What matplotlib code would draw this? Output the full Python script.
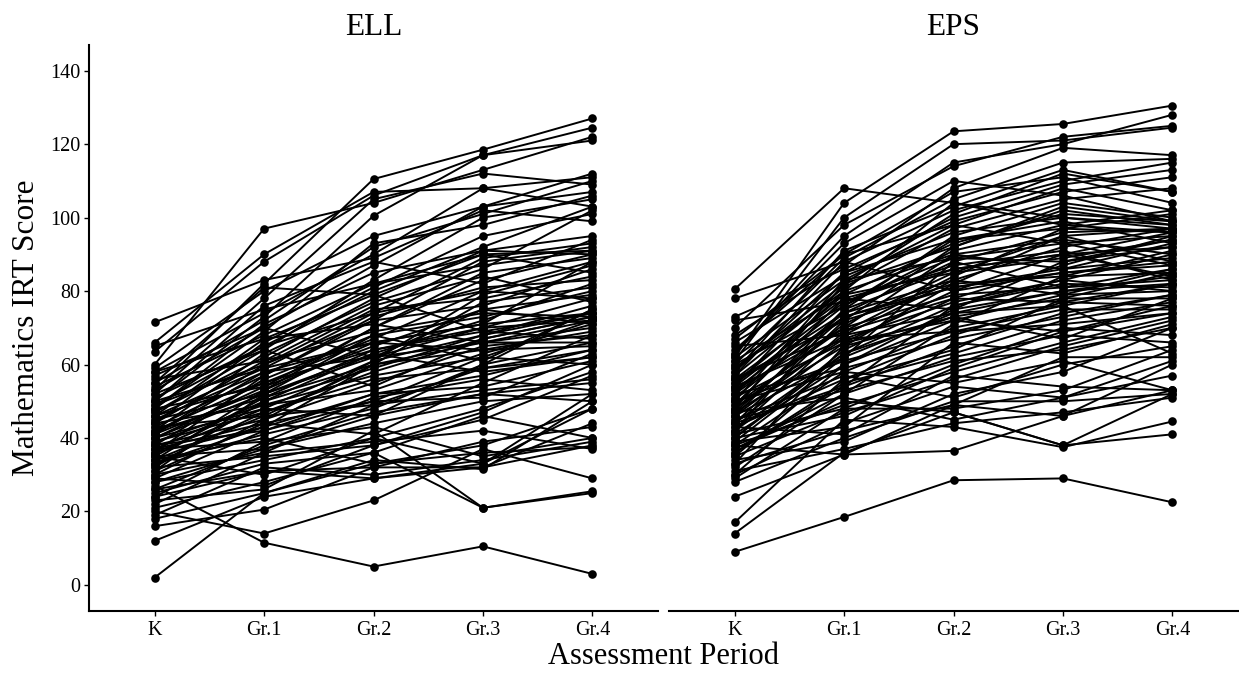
import matplotlib
matplotlib.use("Agg")
import matplotlib.pyplot as plt

periods = ["K", "Gr.1", "Gr.2", "Gr.3", "Gr.4"]
yticks = [0, 20, 40, 60, 80, 100, 120, 140]

ell_scores = [
    [2, 25, 33, 36, 37.5], [12, 24, 29, 33, 48], [16, 20.5, 32, 32, 38], [18, 25, 34, 31.5, 50],
    [20, 14, 23, 37, 29], [27, 11.5, 5, 10.5, 3], [21, 28, 36, 21, 25.5], [23, 26, 42, 21, 25],
    [19, 32, 30, 34, 39], [22, 36, 39, 42, 37], [24, 31, 29, 32, 44], [25, 33, 36, 46, 40],
    [26, 38, 47, 52, 55], [28, 37, 44, 50, 52], [29, 42, 52, 57, 64], [30, 36, 49, 59, 62],
    [31, 44, 50, 62, 72], [32, 35, 38, 45, 57], [33, 41, 48, 60, 75], [34, 46, 60, 66, 66],
    [35, 37, 46, 52, 50], [36, 48, 61, 68, 74], [37, 50, 63, 72, 82], [38, 45, 55, 65, 68],
    [39, 47, 58, 67, 73], [40, 52, 62, 66, 70], [41, 53, 70, 83, 90], [42, 51, 60, 64, 65],
    [43, 57, 72, 88, 92], [44, 49, 57, 62, 60], [45, 58, 62, 70, 72], [46, 55, 67, 80, 88],
    [47, 62, 78, 91, 95], [48, 54, 65, 75, 79], [49, 60, 75, 78, 84], [50, 59, 66, 71, 74],
    [51, 65, 80, 92, 103], [52, 64, 83, 100, 105], [53, 82, 110.5, 118.5, 127], [54, 68, 82, 90, 91],
    [55, 72, 92, 101, 110], [56, 61, 69, 74, 73], [57, 70, 87, 103, 112], [58, 74, 90, 108, 111],
    [60, 97, 104, 113, 122], [59, 80, 95, 103, 107], [63.5, 88, 106, 117, 124.5], [65, 75, 82, 87, 91],
    [66, 90, 107, 108, 103], [71.5, 83, 89, 102, 99], [33, 47, 56, 59, 64], [35, 51, 64, 70, 78],
    [37, 44, 41, 55, 68], [39, 49, 53, 63, 71], [41, 60, 72, 76, 86], [34, 40, 33, 38, 48],
    [36, 43, 52, 54, 61], [38, 56, 68, 73, 80], [40, 54, 70, 85, 89], [42, 63, 77, 86, 102],
    [44, 66, 81, 95, 101], [46, 59, 74, 89, 93], [48, 69, 93, 98, 106], [50, 73, 100.5, 117, 121],
    [52, 78, 105, 112, 109], [30, 45, 61, 79, 87], [28, 34, 40, 48, 58], [26, 31, 32, 39, 43],
    [24, 39, 51, 56, 53], [32, 50, 59, 68, 76], [34, 53, 66, 64, 69], [36, 57, 73, 81, 83],
    [38, 42, 50, 51, 63], [40, 48, 46, 60, 66], [42, 55, 64, 69, 67], [44, 61, 76, 84, 77],
    [46, 67, 79, 69, 74], [48, 71, 85, 91, 90], [50, 76, 88, 82, 94], [35, 30, 40, 33, 52],
    [45, 52, 63, 58, 62], [55, 81, 79, 90, 85], [58, 67, 71, 66, 72], [47, 64, 54, 67, 73],
    [43, 46, 49, 53, 56], [37, 39, 43, 35, 40], [31, 52, 68, 61, 75], [29, 27, 38, 47, 60],
    [33, 43, 60, 77, 81], [41, 58, 66, 71, 88], [49, 65, 74, 80, 78], [53, 70, 62, 75, 71],
]

eps_scores = [
    [9, 18.5, 28.5, 29, 22.5], [14, 36, 47, 38, 41], [17, 45, 43, 37.5, 44.5], [24, 35.5, 36.5, 46, 53],
    [28, 40, 50, 50, 52], [29, 48, 48, 53, 64], [30, 44, 54, 51, 61], [31, 37, 44, 47, 51],
    [32, 52, 62, 68, 66], [33, 42, 49, 62, 62], [35, 47, 56, 65, 72], [36, 54, 65, 74, 79],
    [37, 50, 47, 38, 52], [38, 58, 70, 76, 82], [39, 62, 74, 80, 84], [40, 46, 59, 69, 74],
    [41, 60, 72, 79, 86], [42, 63, 76, 82, 81], [43, 56, 68, 77, 76], [44, 66, 80, 85, 88],
    [45, 53, 61, 64, 70], [46, 68, 83, 92, 97], [47, 65, 73, 78, 78], [48, 71, 85, 89, 94],
    [49, 70, 79, 81, 83], [50, 61, 69, 75, 75], [51, 74, 88, 96, 97], [52, 73, 82, 84, 85],
    [53, 76, 91, 98, 96], [54, 67, 77, 83, 80], [55, 79, 93, 101, 99], [56, 78, 86, 90, 92],
    [57, 81, 97, 105, 108], [58, 85, 100, 109, 113], [59, 80, 90, 94, 90], [60, 89, 105, 115, 116],
    [61, 100, 120, 121, 124.5], [62, 104, 123.5, 125.5, 130.5], [63, 95, 115, 120, 128], [64, 90, 107, 111, 104],
    [66, 84, 96, 100, 98], [68, 87, 108, 119, 117], [70, 98, 114, 122, 125], [73, 86, 99, 107, 111],
    [78, 88, 102, 110, 115], [80.5, 108, 104, 98, 102], [72, 77, 89, 93, 87], [34, 39, 52, 58, 70],
    [36, 55, 63, 72, 77], [38, 49, 58, 66, 73], [40, 64, 78, 87, 95], [42, 69, 84, 97, 96],
    [44, 72, 92, 103, 99], [46, 75, 95, 104, 100], [48, 82, 101, 112, 107], [50, 83, 98, 108, 102],
    [52, 59, 67, 73, 79], [54, 77, 87, 91, 83], [56, 72, 81, 86, 89], [58, 91, 103, 113, 107],
    [60, 76, 94, 99, 93], [45, 57, 51, 60, 65], [47, 51, 45, 51, 57], [43, 41, 57, 54, 53],
    [41, 48, 60, 70, 68], [39, 43, 66, 63, 71], [37, 52, 71, 84, 91], [35, 60, 75, 88, 94],
    [33, 65, 82, 95, 97], [30, 56, 64, 78, 85], [49, 78, 75, 80, 82], [51, 66, 72, 69, 76],
    [53, 70, 90, 86, 93], [55, 74, 83, 79, 80], [57, 88, 80, 90, 96], [59, 82, 92, 102, 98],
    [61, 79, 85, 95, 88], [63, 93, 110, 106, 99], [65, 68, 74, 76, 63], [67, 90, 98, 93, 95],
    [46, 62, 88, 81, 86], [48, 67, 69, 71, 74], [50, 58, 55, 61, 53], [52, 80, 104, 100, 97],
    [44, 54, 76, 83, 90], [42, 75, 86, 90, 84], [40, 63, 73, 67, 78], [56, 69, 78, 77, 82],
    [54, 85, 94, 97, 101], [47, 73, 81, 85, 87], [62, 83, 89, 88, 92], [38, 35.5, 49, 46, 60],
]

panel_titles = ["ELL", "EPS"]
panel_data = [ell_scores, eps_scores]

plt.rcParams["font.family"] = ["Liberation Serif", "DejaVu Serif"]
W, H = 1239, 673
fig = plt.figure(figsize=(W / 100, H / 100), dpi=100, facecolor="white")

lefts = [89, 669]
pw = 569
top, bottom = 45, 611
for i, (left, title, rows) in enumerate(zip(lefts, panel_titles, panel_data)):
    ax = fig.add_axes([left / W, 1 - bottom / H, pw / W, (bottom - top) / H])
    for row in rows:
        ax.plot(range(len(periods)), row, color="black", lw=1.4, marker="o", ms=6.2,
                mew=0, solid_joinstyle="round", clip_on=False)
    ax.set_xlim(-0.6, 4.6)
    ax.set_ylim(-7.1, 147)
    ax.set_xticks(range(len(periods)), periods)
    ax.set_title(title, fontsize=22.5, pad=7)
    for s in ["top", "right"]:
        ax.spines[s].set_visible(False)
    ax.spines["bottom"].set_linewidth(1.5)
    ax.tick_params(axis="x", labelsize=14.5, length=3.5, width=1, pad=4)
    if i == 0:
        ax.set_yticks(yticks)
        ax.tick_params(axis="y", labelsize=14.5, length=3.5, width=1, pad=3)
        ax.spines["left"].set_linewidth(1.5)
        ax.set_ylabel("Mathematics IRT Score", fontsize=22.5, labelpad=6)
    else:
        ax.set_yticks([])
        ax.spines["left"].set_visible(False)

fig.text(664 / W, 1 - 657 / H, "Assessment Period", fontsize=22, ha="center", va="center")
fig.savefig("out.png", dpi=100)
